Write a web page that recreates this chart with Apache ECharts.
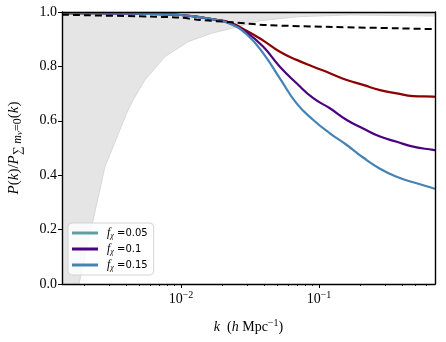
<!DOCTYPE html>
<html><head><meta charset="utf-8">
<script src="https://cdn.jsdelivr.net/npm/echarts@6/dist/echarts.min.js"></script>
<style>html,body{margin:0;padding:0;background:#fff}#c{width:446px;height:342px}</style>
</head><body><div id="c"></div>
<script>
// ---- data ----
const kMin = 0.001374, kMax = 0.6934;
const kCurves = [0.001374, 0.002, 0.003, 0.005, 0.007, 0.01, 0.0137, 0.0176, 0.0227, 0.0299, 0.0395, 0.0521, 0.0689, 0.091, 0.120, 0.159, 0.209, 0.277, 0.366, 0.482, 0.673, 0.6934];
const fx005 = [0.996, 0.996, 0.995, 0.994, 0.992, 0.989, 0.981, 0.972, 0.961, 0.931, 0.895, 0.854, 0.824, 0.799, 0.775, 0.750, 0.732, 0.713, 0.701, 0.691, 0.689, 0.688];
const fx01  = [0.996, 0.996, 0.995, 0.994, 0.992, 0.989, 0.981, 0.972, 0.959, 0.925, 0.872, 0.799, 0.738, 0.683, 0.646, 0.603, 0.572, 0.542, 0.523, 0.505, 0.493, 0.492];
const fx015 = [0.996, 0.996, 0.995, 0.994, 0.992, 0.989, 0.981, 0.972, 0.957, 0.918, 0.848, 0.756, 0.664, 0.603, 0.554, 0.511, 0.465, 0.424, 0.394, 0.374, 0.352, 0.350];
const kDashed = [0.001374, 0.006, 0.01, 0.0137, 0.0238, 0.0415, 0.126, 0.386, 0.6934];
const dashedRatio = [0.990, 0.983, 0.979, 0.971, 0.962, 0.952, 0.945, 0.940, 0.937];
const kBand = [0.001374, 0.001824, 0.002813, 0.004042, 0.004491, 0.005483, 0.007656, 0.01129, 0.01669, 0.02381, 0.03737, 0.07284, 0.1677, 0.6934];
const bandLower = [-0.28, 0.0, 0.431, 0.628, 0.676, 0.750, 0.836, 0.891, 0.922, 0.941, 0.968, 0.983, 0.989, 0.985];
const bandUpper = [1.3, 1.28, 1.22, 1.17, 1.15, 1.12, 1.09, 1.065, 1.045, 1.03, 1.01, 0.997, 0.995, 0.994];
const xMajorTicks = [0.01, 0.1];
const xMinorTicks = [0.002,0.003,0.004,0.005,0.006,0.007,0.008,0.009,0.02,0.03,0.04,0.05,0.06,0.07,0.08,0.09,0.2,0.3,0.4,0.5,0.6];
const yTicks = [0, 0.2, 0.4, 0.6, 0.8, 1.0];
const legendNames = ['0.05', '0.1', '0.15'];

// ---- build ----
const lg = Math.log10;
const pairs = (ks, vs) => ks.map((k, i) => [lg(k), vs[i]]);
const SERIF = 'Liberation Serif';
const xmin = lg(kMin), xmax = lg(kMax);

const chart = echarts.init(document.getElementById('c'), null, {renderer: 'canvas'});
const curveCommon = {type: 'line', showSymbol: false, symbol: 'none', smooth: 0.5, lineStyle: {width: 2.2}, z: 3};

chart.setOption({
  animation: false,
  grid: {left: 62, right: 11, top: 12, bottom: 58, show: false, containLabel: false, outerBoundsMode: 'none'},
  legend: {
    orient: 'vertical', left: 68, top: 223,
    padding: [4, 6, 3, 4], itemGap: 3, itemWidth: 26, itemHeight: 3,
    backgroundColor: 'rgba(255,255,255,0.8)', borderColor: '#d4d4d4', borderWidth: 1, borderRadius: 4,
    data: [
      {name: legendNames[0], icon: 'rect', itemStyle: {color: '#5f9ea0'}},
      {name: legendNames[1], icon: 'rect', itemStyle: {color: '#4b0082'}},
      {name: legendNames[2], icon: 'rect', itemStyle: {color: '#4682b4'}}
    ],
    formatter: n => '{f|f}{s|χ}{e| =' + n + '}',
    textStyle: {
      rich: {
        f: {fontFamily: SERIF, fontStyle: 'italic', fontSize: 12, lineHeight: 14, color: '#000', padding: [0, 0, 0, 4]},
        s: {fontFamily: SERIF, fontStyle: 'italic', fontSize: 8, lineHeight: 8, verticalAlign: 'bottom', color: '#000'},
        e: {fontFamily: 'DejaVu Sans', fontSize: 10, lineHeight: 14, color: '#000'}
      }
    }
  },
  xAxis: [
    {
      type: 'value', min: xmin, max: xmax, position: 'bottom', z: 10,
      axisLine: {show: true, onZero: false, lineStyle: {color: '#000', width: 1.4}},
      axisTick: {show: true, customValues: xMajorTicks.map(lg), length: 4, inside: false, lineStyle: {color: '#000', width: 1}},
      axisLabel: {
        customValues: xMajorTicks.map(lg), margin: 6,
        formatter: v => '{n|10}{p|−' + Math.round(-v) + '}',
        rich: {
          n: {fontFamily: SERIF, fontSize: 14, lineHeight: 18, color: '#000'},
          p: {fontFamily: SERIF, fontSize: 10, lineHeight: 10, verticalAlign: 'top', color: '#000'}
        }
      },
      splitLine: {show: false},
      name: '{i|k}{n|  (}{i|h}{n| Mpc}{p|−1}{n|)}',
      nameLocation: 'middle', nameGap: 34,
      nameTextStyle: {
        rich: {
          i: {fontFamily: SERIF, fontStyle: 'italic', fontSize: 14, lineHeight: 18, color: '#000'},
          n: {fontFamily: SERIF, fontSize: 14, lineHeight: 18, color: '#000'},
          p: {fontFamily: SERIF, fontSize: 10, lineHeight: 10, verticalAlign: 'top', color: '#000'}
        }
      }
    },
    {
      type: 'value', min: xmin, max: xmax, position: 'bottom', z: 10,
      axisLine: {show: false},
      axisTick: {show: true, customValues: xMinorTicks.map(lg), length: 2, inside: false, lineStyle: {color: '#000', width: 0.8}},
      axisLabel: {show: false}, splitLine: {show: false}
    },
    {
      type: 'value', min: xmin, max: xmax, position: 'top', z: 10,
      axisLine: {show: true, onZero: false, lineStyle: {color: '#000', width: 1.4}},
      axisTick: {show: false}, axisLabel: {show: false}, splitLine: {show: false}
    }
  ],
  yAxis: [
    {
      type: 'value', min: 0, max: 1, interval: 0.2, position: 'left', z: 10,
      axisLine: {show: true, onZero: false, lineStyle: {color: '#000', width: 1.4}},
      axisTick: {show: true, length: 4, inside: false, lineStyle: {color: '#000', width: 1}},
      axisLabel: {
        margin: 5, fontFamily: SERIF, fontSize: 14, color: '#000',
        formatter: v => yTicks.indexOf(Math.round(v * 10) / 10) >= 0 ? v.toFixed(1) : ''
      },
      splitLine: {show: false},
      name: '{i|P}{n|(}{i|k}{n|)/}{i|P}{s|∑ }{si|m}{ss|ν}{s|=0}{n|(}{i|k}{n|)}',
      nameLocation: 'middle', nameRotate: 90, nameGap: 38,
      nameTextStyle: {
        rich: {
          i: {fontFamily: SERIF, fontStyle: 'italic', fontSize: 15, lineHeight: 20, color: '#000'},
          n: {fontFamily: SERIF, fontSize: 15, lineHeight: 20, color: '#000'},
          s: {fontFamily: SERIF, fontSize: 12, lineHeight: 11, verticalAlign: 'bottom', color: '#000'},
          si: {fontFamily: SERIF, fontStyle: 'italic', fontSize: 12, lineHeight: 11, verticalAlign: 'bottom', color: '#000'},
          ss: {fontFamily: SERIF, fontStyle: 'italic', fontSize: 9, lineHeight: 7, verticalAlign: 'bottom', color: '#000'}
        }
      }
    },
    {
      type: 'value', min: 0, max: 1, position: 'right', z: 10,
      axisLine: {show: true, onZero: false, lineStyle: {color: '#000', width: 1.4}},
      axisTick: {show: false}, axisLabel: {show: false}, splitLine: {show: false}
    }
  ],
  series: [
    {
      name: 'bandUpper', type: 'line', symbol: 'none', z: 1,
      data: pairs(kBand, bandUpper),
      lineStyle: {color: '#d9d9d9', width: 0.8},
      areaStyle: {color: '#e5e5e5', opacity: 1, origin: 'start'}
    },
    {
      name: 'bandLower', type: 'line', symbol: 'none', z: 1,
      data: pairs(kBand, bandLower),
      lineStyle: {color: '#d0d0d0', width: 0.8},
      areaStyle: {color: '#ffffff', opacity: 1, origin: 'start'}
    },
    Object.assign({}, curveCommon, {name: legendNames[0], data: pairs(kCurves, fx005), color: '#8b0000', lineStyle: {width: 2.2, color: '#8b0000'}}),
    Object.assign({}, curveCommon, {name: legendNames[1], data: pairs(kCurves, fx01), color: '#4b0082', lineStyle: {width: 2.2, color: '#4b0082'}}),
    Object.assign({}, curveCommon, {name: legendNames[2], data: pairs(kCurves, fx015), color: '#4682b4', lineStyle: {width: 2.2, color: '#4682b4'}}),
    {
      name: 'massless', type: 'line', symbol: 'none', smooth: 0.3, z: 4,
      data: pairs(kDashed, dashedRatio),
      lineStyle: {color: '#000', width: 2, type: [7, 4]}
    }
  ]
});
</script>
</body></html>
